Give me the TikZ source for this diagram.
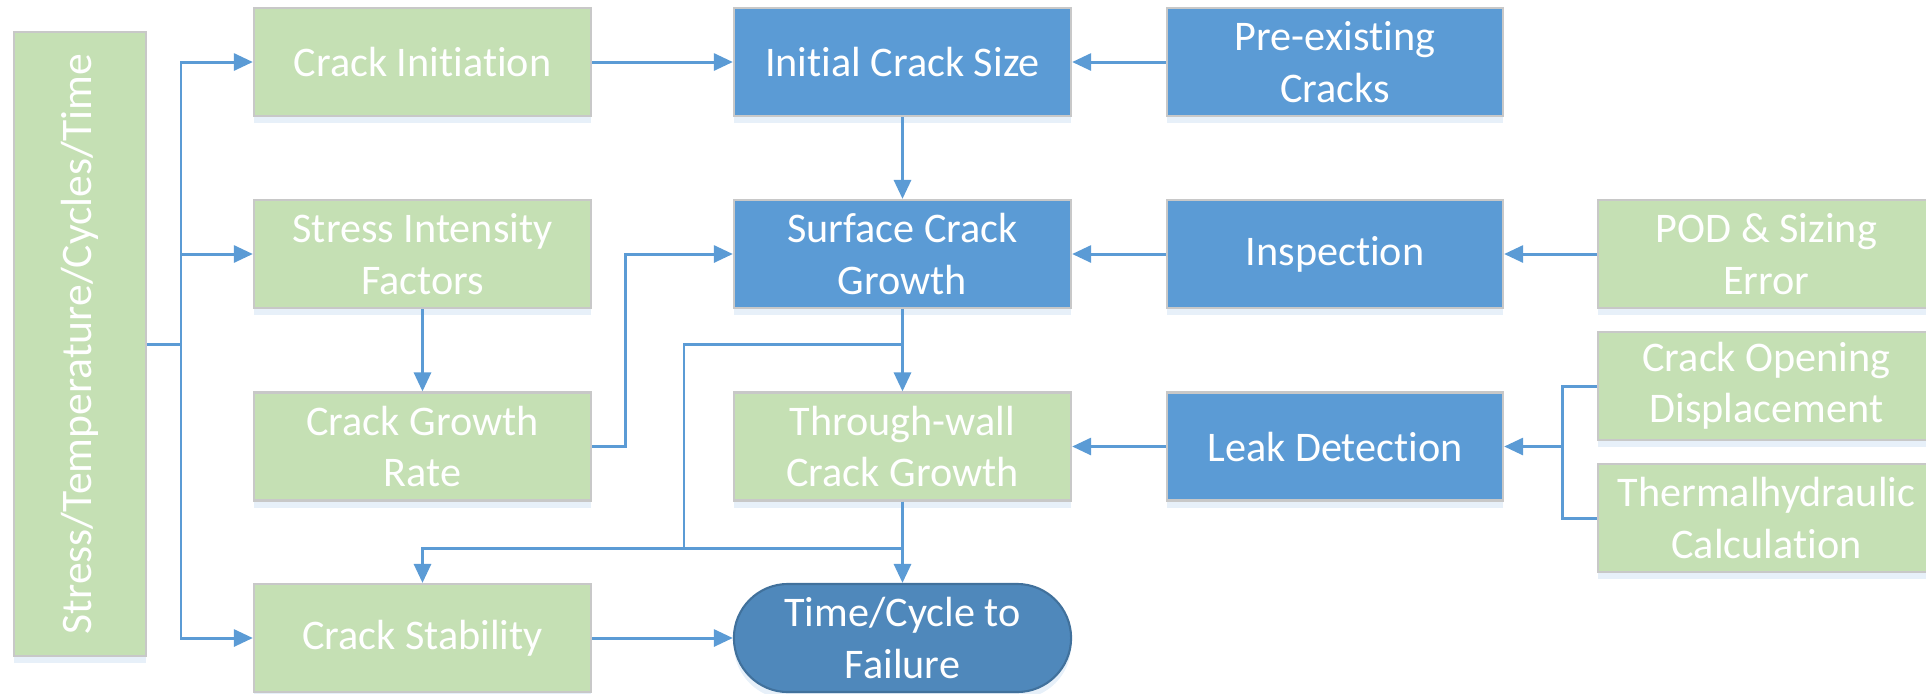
\documentclass[tikz,border=0pt]{standalone}
\usepackage{fontspec}
\setmainfont{Carlito}[Ligatures={NoCommon}]
\usetikzlibrary{arrows.meta,shadows}

\definecolor{boxblue}{RGB}{91,155,213}
\definecolor{boxgreen}{RGB}{197,224,180}
\definecolor{enddark}{RGB}{79,136,187}
\definecolor{enddraw}{RGB}{65,113,156}
\definecolor{edgegray}{RGB}{200,200,200}

\tikzset{
  block/.style={draw=edgegray, line width=0.6pt, text=white, align=center,
    minimum width=3.37cm, minimum height=1.08cm, inner sep=1pt,
    font=\fontsize{12}{14.6}\selectfont,
    drop shadow={shadow xshift=0pt, shadow yshift=-2pt, opacity=0.15, fill=boxblue}},
  greenbox/.style={block, fill=boxgreen},
  bluebox/.style={block, fill=boxblue},
  endbox/.style={block, fill=enddark, draw=enddraw, rounded corners=0.54cm},
  wire/.style={draw=boxblue, line width=0.85pt},
  flow/.style={wire, -{Triangle[length=1.9mm,width=1.7mm]}},
}

\begin{document}
\begin{tikzpicture}[x=0.01cm, y=-0.01cm]

\useasboundingbox (0,0) rectangle (1926,693);
\clip (0,0) rectangle (1926,693);

% Load bar on the left
\node[greenbox, rotate=90, minimum width=6.24cm, minimum height=1.32cm,
  font=\fontsize{12.4}{15}\selectfont] (load) at (80,344) {Stress/Temperature/Cycles/Time};

% Left column
\node[greenbox] (init) at (422.5,62) {Crack Initiation};
\node[greenbox] (sif) at (422.5,254) {Stress Intensity\\Factors};
\node[greenbox] (cgr) at (422.5,446.5) {Crack Growth\\Rate};
\node[greenbox] (stab) at (422.5,638) {Crack Stability};

% Middle column
\node[bluebox] (ics) at (902.5,62) {Initial Crack Size};
\node[bluebox] (scg) at (902.5,254) {Surface Crack\\Growth};
\node[greenbox] (tw) at (902.5,446.5) {Through-wall\\Crack Growth};
\node[endbox] (fail) at (902.5,638) {Time/Cycle to\\Failure};

% Right columns
\node[bluebox, minimum width=3.36cm] (pre) at (1335,62) {Pre-existing\\Cracks};
\node[bluebox, minimum width=3.36cm] (insp) at (1335,254) {Inspection};
\node[bluebox, minimum width=3.36cm] (ld) at (1335,446.5) {Leak Detection};
\node[greenbox] (pod) at (1766.5,254) {POD \& Sizing\\Error};
\node[greenbox] (cod) at (1766.5,386) {Crack Opening\\Displacement};
\node[greenbox] (thh) at (1766.5,518) {Thermalhydraulic\\Calculation};

% Bus from the load bar
\coordinate (bus) at (181,344);
\draw[wire] (load.south) -- (bus);
\draw[flow] (bus) |- (init.west);
\draw[flow] (bus) |- (sif.west);
\draw[flow] (bus) |- (stab.west);

% Main flow
\draw[flow] (init) -- (ics);
\draw[flow] (pre) -- (ics);
\draw[flow] (ics) -- (scg);
\draw[flow] (insp) -- (scg);
\draw[flow] (pod) -- (insp);
\draw[flow] (sif) -- (cgr);
\draw[flow] (cgr.east) -- ++(33,0) |- (scg.west);
\draw[flow] (scg) -- (tw);
\draw[flow] (tw) -- (fail);
\draw[flow] (stab) -- (fail);
\draw[flow] (ld) -- (tw);

% Loop to crack stability
\coordinate (loopA) at (684,344);
\coordinate (loopB) at (684,548);
\draw[wire] (scg.south) |- (loopA) -- (loopB);
\draw[wire] (tw.south) |- (loopB);
\draw[flow] (loopB) -| (stab.north);

% Leak detection inputs
\coordinate (brk) at (1562,446.5);
\draw[flow] (brk) -- (ld);
\draw[wire] (cod.west) -| (brk) |- (thh.west);

\end{tikzpicture}
\end{document}
